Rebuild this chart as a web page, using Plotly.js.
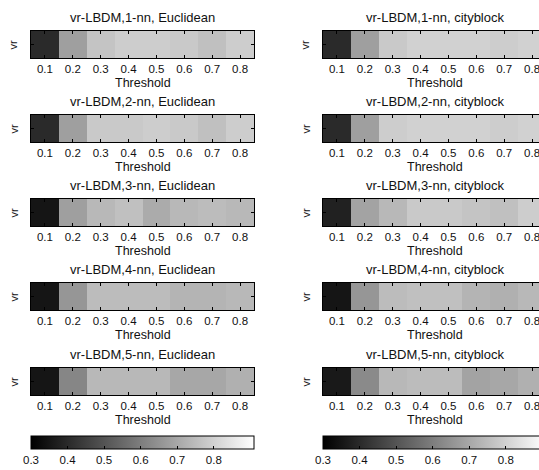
<!DOCTYPE html>
<html>
<head>
<meta charset="utf-8">
<script src="https://cdn.plot.ly/plotly-3.0.1.min.js"></script>
<style>
html,body{margin:0;padding:0;overflow:hidden;background:#fff;}
#chart{width:560px;height:470px;}
</style>
</head>
<body>
<div id="chart"></div>
<script>
// ---- data ----
var thresholds = [0.1, 0.2, 0.3, 0.4, 0.5, 0.6, 0.7, 0.8];
var rowLabel = ['vr'];
var euclid1 = [0.40, 0.68, 0.77, 0.79, 0.79, 0.78, 0.76, 0.79];
var euclid2 = [0.40, 0.68, 0.78, 0.78, 0.79, 0.78, 0.76, 0.79];
var euclid3 = [0.35, 0.68, 0.74, 0.76, 0.71, 0.74, 0.75, 0.74];
var euclid4 = [0.35, 0.66, 0.75, 0.75, 0.75, 0.73, 0.73, 0.74];
var euclid5 = [0.35, 0.62, 0.74, 0.74, 0.74, 0.70, 0.70, 0.72];
var city1 = [0.40, 0.68, 0.78, 0.80, 0.80, 0.80, 0.79, 0.80];
var city2 = [0.40, 0.68, 0.79, 0.80, 0.80, 0.80, 0.79, 0.80];
var city3 = [0.38, 0.69, 0.74, 0.78, 0.78, 0.77, 0.76, 0.79];
var city4 = [0.35, 0.66, 0.75, 0.76, 0.76, 0.73, 0.72, 0.74];
var city5 = [0.36, 0.63, 0.74, 0.75, 0.75, 0.69, 0.70, 0.72];
var euclidTitles = ['vr-LBDM,1-nn, Euclidean','vr-LBDM,2-nn, Euclidean','vr-LBDM,3-nn, Euclidean','vr-LBDM,4-nn, Euclidean','vr-LBDM,5-nn, Euclidean'];
var cityTitles = ['vr-LBDM,1-nn, cityblock','vr-LBDM,2-nn, cityblock','vr-LBDM,3-nn, cityblock','vr-LBDM,4-nn, cityblock','vr-LBDM,5-nn, cityblock'];
var xTitle = 'Threshold';
var cbTicks = [0.3, 0.4, 0.5, 0.6, 0.7, 0.8];
var zMin = 0.3, zMax = 0.91;

// ---- layout ----
var W = 560, H = 470;
function px(x){ return x / W; }
function py(y){ return 1 - y / H; }
var FONT = 'Liberation Sans, Arial, sans-serif';
var TXT = '#111';
var cols = [{left:31, right:254, data:[euclid1,euclid2,euclid3,euclid4,euclid5], titles:euclidTitles},
            {left:323, right:546, data:[city1,city2,city3,city4,city5], titles:cityTitles}];
var rowTops = [31, 115, 199, 283, 368];
var rowH = 27;

var traces = [];
var layout = {
  width: W, height: H,
  margin: {l:0, r:0, t:0, b:0},
  paper_bgcolor: '#fff', plot_bgcolor: '#fff',
  font: {family: FONT, size: 11, color: TXT},
  showlegend: false,
  annotations: []
};

var n = 0;
cols.forEach(function(col, ci){
  col.data.forEach(function(vals, ri){
    n++;
    var sfx = (n === 1 ? '' : String(n));
    var tr = {
      type: 'heatmap',
      x: thresholds, y: rowLabel, z: [vals],
      xaxis: 'x' + sfx, yaxis: 'y' + sfx,
      zmin: zMin, zmax: zMax,
      colorscale: [[0,'#000000'],[1,'#ffffff']],
      showscale: ri === 4,
      hoverinfo: 'x+z'
    };
    if (ri === 4) {
      tr.colorbar = {
        orientation: 'h',
        x: px(col.left), xanchor: 'left',
        y: py(436), yanchor: 'top',
        len: (col.right - col.left) / W, lenmode: 'fraction',
        thickness: 13, thicknessmode: 'pixels',
        xpad: 0, ypad: 0,
        outlinewidth: 1, outlinecolor: '#000',
        tickvals: cbTicks, ticktext: cbTicks.map(function(v){return v.toFixed(1);}),
        ticks: 'inside', ticklen: 3, tickcolor: '#000',
        tickfont: {family: FONT, size: 11.5, color: TXT}
      };
    }
    traces.push(tr);
    var top = rowTops[ri], bot = top + rowH;
    layout['xaxis' + sfx] = {
      domain: [px(col.left), px(col.right)],
      anchor: 'y' + sfx,
      range: [0.05, 0.85],
      tickvals: thresholds, ticktext: thresholds.map(function(v){return v.toFixed(1);}),
      ticks: 'inside', ticklen: 3, tickcolor: '#000',
      showline: true, linecolor: '#000', linewidth: 1, mirror: 'ticks',
      showgrid: false, zeroline: false,
      tickfont: {family: FONT, size: 11.5, color: TXT}
    };
    layout['yaxis' + sfx] = {
      domain: [py(bot), py(top)],
      anchor: 'x' + sfx,
      tickvals: rowLabel,
      showticklabels: false,
      ticks: 'inside', ticklen: 3, tickcolor: '#000',
      showline: true, linecolor: '#000', linewidth: 1, mirror: 'ticks',
      showgrid: false, zeroline: false
    };
    var cx = (col.left + col.right) / 2;
    layout.annotations.push({
      text: col.titles[ri], xref: 'paper', yref: 'paper',
      x: px(cx), y: py(top - 4), xanchor: 'center', yanchor: 'bottom',
      showarrow: false, font: {family: FONT, size: 13, color: TXT}
    });
    layout.annotations.push({
      text: xTitle, xref: 'paper', yref: 'paper',
      x: px(cx), y: py(bot + 16), xanchor: 'center', yanchor: 'top',
      showarrow: false, font: {family: FONT, size: 12.5, color: TXT}
    });
    layout.annotations.push({
      text: 'vr', xref: 'paper', yref: 'paper',
      x: px(col.left - 18), y: py(top + rowH / 2), xanchor: 'center', yanchor: 'middle',
      textangle: -90,
      showarrow: false, font: {family: FONT, size: 11, color: TXT}
    });
  });
});

Plotly.newPlot('chart', traces, layout, {staticPlot: true, displayModeBar: false});
</script>
</body>
</html>
